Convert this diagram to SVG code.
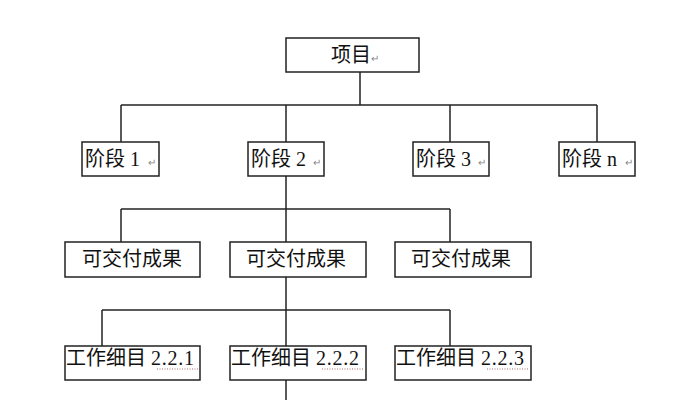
<svg xmlns="http://www.w3.org/2000/svg" width="675" height="400" viewBox="0 0 675 400">
<style>
rect{fill:#fff;stroke:#222;stroke-width:1.5}
.c line{stroke:#222;stroke-width:1.5}
text{font-family:"Liberation Serif","Noto Sans CJK SC",serif;fill:#111}
.t{font-size:20px}
.m{font-size:10px;fill:#888}
.u{stroke:#a07070;stroke-width:1;stroke-dasharray:1 1.5}
</style>
<rect x="0" y="0" width="675" height="400" style="stroke:none"/>
<g class="c">
<line x1="360" y1="72" x2="360" y2="105"/>
<line x1="121" y1="105" x2="597" y2="105"/>
<line x1="121" y1="105" x2="121" y2="142"/>
<line x1="286" y1="105" x2="286" y2="142"/>
<line x1="450" y1="105" x2="450" y2="142"/>
<line x1="597" y1="105" x2="597" y2="142"/>
<line x1="286" y1="176" x2="286" y2="242"/>
<line x1="121" y1="209" x2="450" y2="209"/>
<line x1="121" y1="209" x2="121" y2="242"/>
<line x1="450" y1="209" x2="450" y2="242"/>
<line x1="286" y1="277" x2="286" y2="346"/>
<line x1="102" y1="310" x2="450" y2="310"/>
<line x1="102" y1="310" x2="102" y2="346"/>
<line x1="450" y1="310" x2="450" y2="346"/>
<line x1="286" y1="380" x2="286" y2="400"/>
</g>
<g id="root"><rect x="286" y="38" width="133" height="34"/><text class="t" x="331" y="62">项目</text><text class="m" x="371" y="62">↵</text></g>
<g id="p1"><rect x="82" y="142" width="77" height="34"/><text class="t" x="85" y="166">阶段 1</text><text class="m" x="148" y="166">↵</text></g>
<g id="p2"><rect x="248" y="142" width="76" height="34"/><text class="t" x="251" y="166">阶段 2</text><text class="m" x="313" y="166">↵</text></g>
<g id="p3"><rect x="413" y="142" width="76" height="34"/><text class="t" x="416" y="166">阶段 3</text><text class="m" x="478" y="166">↵</text></g>
<g id="pn"><rect x="559" y="142" width="76" height="34"/><text class="t" x="562" y="166">阶段 n</text><text class="m" x="625" y="166">↵</text></g>
<g id="d1"><rect x="65" y="242" width="135" height="35"/><text class="t" x="82" y="266">可交付成果</text></g>
<g id="d2"><rect x="230" y="242" width="136" height="35"/><text class="t" x="246" y="266">可交付成果</text></g>
<g id="d3"><rect x="395" y="242" width="136" height="35"/><text class="t" x="411" y="266">可交付成果</text></g>
<g id="w1"><rect x="65" y="346" width="135" height="34"/><text class="t" x="66" y="365">工作细目 <tspan textLength="43" lengthAdjust="spacing">2.2.1</tspan></text><line class="u" x1="157" y1="369" x2="199" y2="369"/></g>
<g id="w2"><rect x="230" y="346" width="136" height="34"/><text class="t" x="231" y="365">工作细目 <tspan textLength="43" lengthAdjust="spacing">2.2.2</tspan></text><line class="u" x1="322" y1="369" x2="364" y2="369"/></g>
<g id="w3"><rect x="395" y="346" width="136" height="34"/><text class="t" x="396" y="365">工作细目 <tspan textLength="43" lengthAdjust="spacing">2.2.3</tspan></text><line class="u" x1="487" y1="369" x2="529" y2="369"/></g>
</svg>
